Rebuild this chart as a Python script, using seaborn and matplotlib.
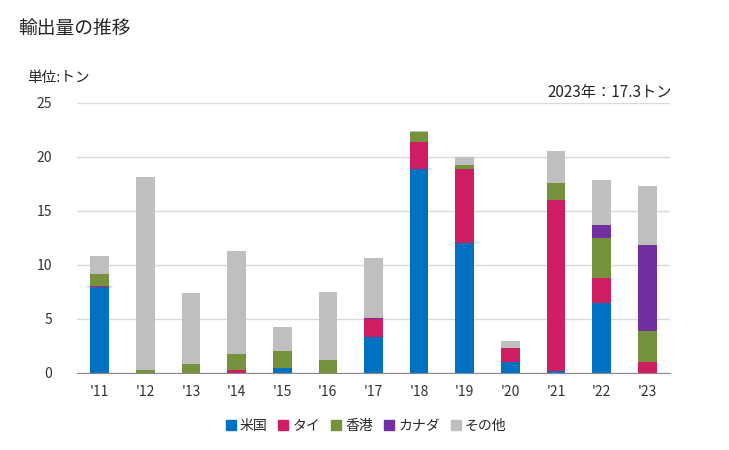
import numpy as np
import pandas as pd
import matplotlib
matplotlib.use("Agg")
import matplotlib.pyplot as plt
import seaborn as sns

years = ["'11", "'12", "'13", "'14", "'15", "'16", "'17", "'18", "'19", "'20", "'21", "'22", "'23"]
series_names = ["米国", "タイ", "香港", "カナダ", "その他"]
us = [7.93, 0, 0, 0, 0.49, 0, 3.36, 18.92, 12.0, 1.05, 0.22, 6.45, 0]
thai = [0.09, 0, 0, 0.31, 0, 0, 1.61, 2.5, 6.92, 1.3, 15.83, 2.38, 1.05]
hongkong = [1.18, 0.31, 0.86, 1.48, 1.58, 1.23, 0, 0.93, 0.37, 0, 1.57, 3.7, 2.87]
canada = [0, 0, 0, 0, 0, 0, 0.15, 0, 0, 0, 0, 1.2, 7.96]
other = [1.66, 17.87, 6.58, 9.54, 2.22, 6.3, 5.56, 0.09, 0.68, 0.64, 2.97, 4.17, 5.47]
colors = ["#0070C0", "#CE1D60", "#76923C", "#7030A0", "#BFBFBF"]

sns.set_style("white")
plt.rcParams['font.family'] = ['Noto Sans CJK JP', 'DejaVu Sans']

df = pd.DataFrame({"year": years, "米国": us, "タイ": thai, "香港": hongkong,
                   "カナダ": canada, "その他": other})
cum = df[series_names].cumsum(axis=1)

fig = plt.figure(figsize=(7.29, 4.5), dpi=100)
ax = fig.add_axes([77 / 729, 1 - 373 / 450, 593 / 729, 270 / 450])

# draw from top of stack down so lower segments cover upper ones
for name, col in reversed(list(zip(series_names, colors))):
    sns.barplot(x=df["year"], y=cum[name], color=col, width=0.41, ax=ax,
                saturation=1, linewidth=0, zorder=3)

ax.set_ylim(0, 25)
ax.set_xlim(-0.5, 12.5)
ax.set_yticks([0, 5, 10, 15, 20, 25])
ax.yaxis.grid(True, color="#D9D9D9", linewidth=1, zorder=0)
ax.set_axisbelow(True)
for s in ["left", "right", "top"]:
    ax.spines[s].set_visible(False)
ax.spines["bottom"].set_color("#898989")
ax.tick_params(axis="both", length=0, labelsize=10, colors="#333333")
ax.tick_params(axis="x", pad=9)
ax.tick_params(axis="y", pad=18)
ax.set_xlabel("")
ax.set_ylabel("")

fig.text(18 / 729, 1 - 28 / 450, "輸出量の推移", fontsize=13.5, va="center", ha="left")
fig.text(27 / 729, 1 - 78 / 450, "単位:トン", fontsize=10.5, va="center", ha="left")
fig.text(672 / 729, 1 - 92 / 450, "2023年：17.3トン", fontsize=11, va="center", ha="right")

handles = [plt.Line2D([], [], marker="s", linestyle="", color=c, markersize=7) for c in colors]
fig.legend(handles, series_names, loc="center", bbox_to_anchor=(366 / 729, 1 - 426 / 450),
           ncol=5, frameon=False, fontsize=10, handlelength=0.7, handletextpad=0.3,
           columnspacing=0.8)

fig.savefig("out.png", dpi=100)
